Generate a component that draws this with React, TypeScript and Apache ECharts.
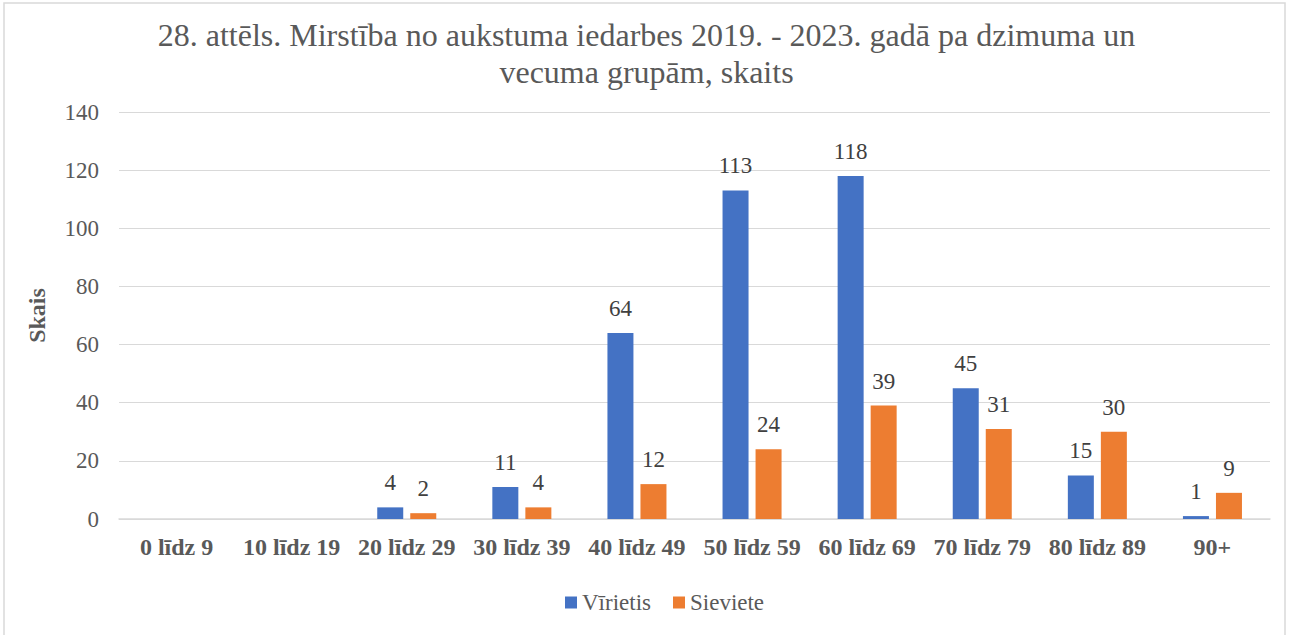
import React, { useEffect, useRef } from "react";
import * as echarts from "echarts";

const categories = ["0 līdz 9", "10 līdz 19", "20 līdz 29", "30 līdz 39", "40 līdz 49", "50 līdz 59", "60 līdz 69", "70 līdz 79", "80 līdz 89", "90+"];
const male = [0, 0, 4, 11, 64, 113, 118, 45, 15, 1];
const female = [0, 0, 2, 4, 12, 24, 39, 31, 30, 9];
const seriesNames = ["Vīrietis", "Sieviete"];
const titleText = "28. attēls. Mirstība no aukstuma iedarbes 2019. - 2023. gadā pa dzimuma un\nvecuma grupām, skaits";
const yName = "Skais";

export default function App() {
  const ref = useRef<HTMLDivElement>(null);
  useEffect(() => {
    const chart = echarts.init(ref.current!, null, { renderer: "svg" });
    const font = "Liberation Serif, Times New Roman, serif";
    const label = {
      show: true,
      position: "top",
      distance: 13,
      fontFamily: font,
      fontSize: 23,
      color: "#404040",
      formatter: (p: any) => (p.value === 0 ? "" : String(p.value)),
    };
    chart.setOption({
      animation: false,
      textStyle: { fontFamily: font },
      graphic: [
        {
          type: "rect",
          shape: { x: 4, y: 3, width: 1281, height: 650 },
          style: { fill: "none", stroke: "#d9d9d9", lineWidth: 1.5 },
          silent: true,
        },
      ],
      title: {
        text: titleText,
        left: "center",
        top: 11,
        textStyle: { fontFamily: font, fontSize: 32, fontWeight: "normal", color: "#595959", lineHeight: 37 },
      },
      legend: {
        bottom: 16,
        left: 560,
        itemWidth: 12,
        itemHeight: 12,
        itemGap: 22,
        icon: "rect",
        textStyle: { fontFamily: font, fontSize: 23, color: "#595959" },
        data: seriesNames,
      },
      grid: { left: 119, right: 23, top: 112, bottom: 116 },
      xAxis: {
        type: "category",
        data: categories,
        axisLine: { lineStyle: { color: "#d9d9d9", width: 1.5 } },
        axisTick: { show: false },
        axisLabel: { interval: 0, fontFamily: font, fontSize: 24, fontWeight: "bold", color: "#595959", margin: 16 },
      },
      yAxis: {
        type: "value",
        min: 0,
        max: 140,
        interval: 20,
        name: yName,
        nameLocation: "middle",
        nameGap: 70,
        nameRotate: 90,
        nameTextStyle: { fontFamily: font, fontSize: 24, fontWeight: "bold", color: "#595959" },
        axisLine: { show: false },
        axisTick: { show: false },
        splitLine: { lineStyle: { color: "#d9d9d9", width: 1.2 } },
        axisLabel: { fontFamily: font, fontSize: 23, color: "#595959", margin: 20 },
      },
      series: [
        {
          name: seriesNames[0],
          type: "bar",
          data: male,
          itemStyle: { color: "#4472c4" },
          barWidth: 26,
          barGap: "27%",
          label,
        },
        {
          name: seriesNames[1],
          type: "bar",
          data: female,
          itemStyle: { color: "#ed7d31" },
          barWidth: 26,
          label,
        },
      ],
    });
    return () => chart.dispose();
  }, []);
  return <div ref={ref} style={{ position: "absolute", left: 0, top: 0, width: 1293, height: 635, background: "#fff" }} />;
}
